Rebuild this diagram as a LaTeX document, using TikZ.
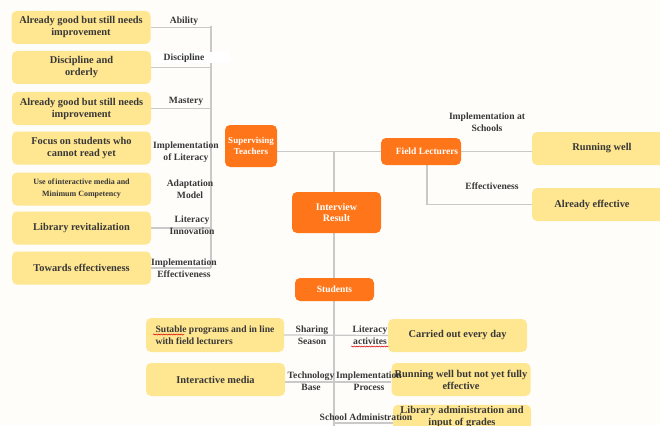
\documentclass[tikz,border=0pt]{standalone}
\usepackage{fontspec}
\setmainfont{Liberation Serif}
\usetikzlibrary{calc,decorations.pathmorphing}

\definecolor{paper}{HTML}{FFFDFA}
\definecolor{mindorange}{HTML}{FF761A}
\definecolor{mindyellow}{HTML}{FFE690}
\definecolor{wire}{HTML}{C9C9C9}
\definecolor{ink}{HTML}{383838}

\pgfdeclarelayer{canvas}
\pgfdeclarelayer{wires}
\pgfsetlayers{canvas,wires,main}

\tikzset{
  leaf/.style={fill=mindyellow, rounded corners=5pt, text=ink,
    font=\bfseries\fontsize{10.4}{12}\selectfont, align=center,
    minimum height=33pt, minimum width=139pt, inner sep=2pt},
  hub/.style={fill=mindorange, rounded corners=5pt, text=white,
    font=\bfseries\fontsize{9.5}{11}\selectfont, align=center, inner sep=2pt},
  tag/.style={text=ink, font=\bfseries\fontsize{9.6}{12}\selectfont,
    align=center, inner sep=0pt},
  link/.style={draw=wire, line width=1.2pt},
  typo/.style={draw=red!85!black, line width=0.5pt, decorate,
    decoration={snake, amplitude=0.6pt, segment length=2.5pt}},
}

\begin{document}
\begin{tikzpicture}[x=1pt,y=-1pt]
\begin{pgfonlayer}{canvas}
  \fill[paper] (0,0) rectangle (660,425);
\end{pgfonlayer}
\useasboundingbox (0,0) rectangle (660,425);

% ---- left column: supervising teachers' findings
\node[leaf] (a1) at (81,27.5) {Already good but still needs\\improvement};
\node[leaf] (a2) at (81.5,67.5) {Discipline and\\orderly};
\node[leaf] (a3) at (81.5,108.5) {Already good but still needs\\improvement};
\node[leaf] (a4) at (81.5,148) {Focus on students who\\cannot read yet};
\node[leaf, font=\bfseries\fontsize{8}{12}\selectfont] (a5) at (81.5,189)
  {Use of\kern1pt interactive media and\\Minimum Competency};
\node[leaf] (a6) at (81.5,228) {Library revitalization};
\node[leaf] (a7) at (81.5,268) {Towards effectiveness};

\node[tag] (t1) at (184,21) {Ability};
\node[tag, fill=white, minimum width=78pt, minimum height=11pt] (t2) at (191,58)
  {Discipline\hspace*{14pt}};
\node[tag] (t3) at (186,101) {Mastery};
\node[tag] (t4) at (186,152) {Implementation\\of Literacy};
\node[tag] (t5) at (190,189) {Adaptation\\Model};
\node[tag] (t6) at (192,225) {Literacy\\Innovation};
\node[tag] (t7) at (184,268) {Implementation\\Effectiveness};

% ---- central hubs
\node[hub, minimum width=52pt, minimum height=42pt,
      font=\bfseries\fontsize{9}{11}\selectfont] (st) at (251,146) {Supervising\\Teachers};
\node[hub, minimum width=80pt, minimum height=27pt] (fl) at (421,151.5)
  {\hspace*{12pt}Field Lecturers};
\node[hub, minimum width=89pt, minimum height=41pt,
      font=\bfseries\fontsize{10}{11}\selectfont] (ir) at (336.5,212.5) {Interview\\Result};
\node[hub, minimum width=79pt, minimum height=23pt] (stu) at (334.5,289.5) {Students};

\coordinate (j) at (334,151);
\coordinate (tail) at (334,428);
\coordinate (bt) at (211,26);
\coordinate (sa) at (334,423);

% ---- right column: field lecturers' findings
\node[leaf, minimum width=140pt] (rw) at (602,148.5) {Running well};
\node[leaf, minimum width=140pt] (ae) at (602,204.5) {Already effective\hspace*{20pt}};
\node[tag] (t8) at (487,122) {Implementation at\\Schools};
\node[tag] (t9) at (492,186) {Effectiveness};

% ---- bottom: students' findings
\node[leaf, minimum width=138pt, minimum height=34pt, align=left,
      font=\bfseries\fontsize{9.6}{12}\selectfont] (sp) at (215,335)
  {Sutable programs and in line\\with field lecturers};
\node[leaf] (ce) at (457.5,335.5) {Carried out every day};
\node[leaf] (im) at (215.5,379.5) {Interactive media};
\node[leaf] (rwb) at (461,379.5) {Running well but not yet fully\\effective};
\node[leaf, minimum height=24pt, minimum width=138pt] (la) at (462,417.5)
  {Library administration and\\input of grades};

\node[tag] (t10) at (312,335) {Sharing\\Season};
\node[tag] (t11) at (370,335.5) {Literacy\\activites};
\node[tag] (t12) at (311,381) {Technology\\Base};
\node[tag] (t13) at (369,381) {Implementation\\Process};
\node[tag] (t14) at (366,417) {School Administration};

% spelling marks under two words
\draw[typo] (153,334.5) -- (184,334.5);
\draw[typo] (351,346.5) -- (388,346.5);

% ---- connectors
\begin{pgfonlayer}{wires}
  \draw[link] (bt) -- (bt |- a7.east);
  \draw[link] (a1.east) -- (a1.east -| bt);
  \draw[link] (a2.east) -- (a2.east -| bt);
  \draw[link] (a3.east) -- (a3.east -| bt);
  \draw[link] ($(a4.east)+(0,5)$) -- ($(a4.east)+(0,5)$ -| st.west);
  \draw[link] ($(a5.east)+(0,-2)$) -- ($(a5.east)+(0,-2)$ -| bt);
  \draw[link] (a6.east) -- (a6.east -| bt);
  \draw[link] (a7.east) -- (a7.east -| bt);

  \draw[link] (st.east |- fl.west) -- (fl.west);
  \draw[link] (j) -- (j |- ir.north);
  \draw[link] (j |- ir.south) -- (tail);

  \draw[link] (fl.east) -- (fl.east -| rw.west);
  \draw[link] ($(fl.south)+(6,0)$) |- (ae.west);

  \draw[link] (sp.east) -- (ce.west);
  \draw[link] ($(im.east)+(0,2.5)$) -- ($(rwb.west)+(0,2.5)$);
  \draw[link] (sa) -- (sa -| la.west);
\end{pgfonlayer}
\end{tikzpicture}
\end{document}
